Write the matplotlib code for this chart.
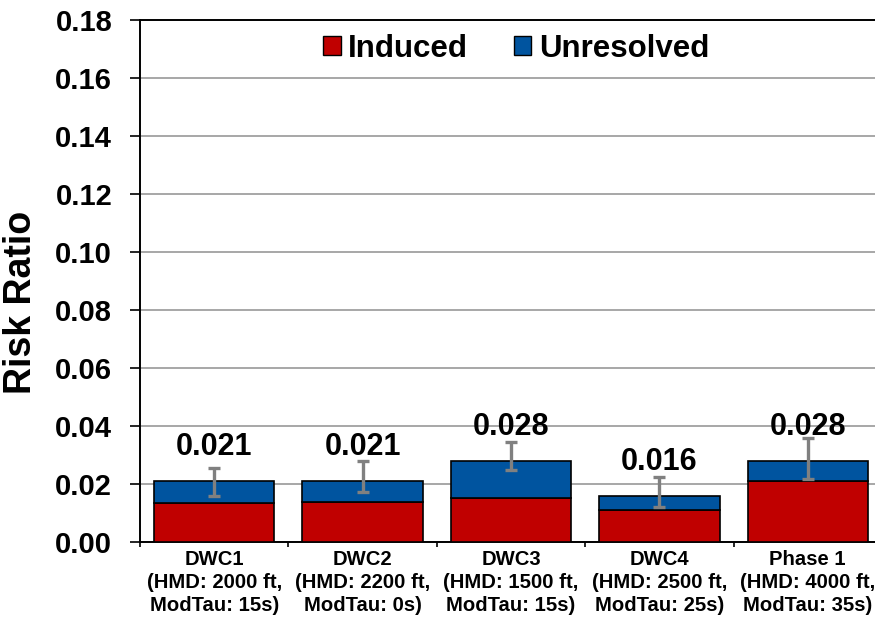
import numpy as np
import matplotlib
matplotlib.use("Agg")
import matplotlib.pyplot as plt
from matplotlib.patches import Patch

# ── Data ──────────────────────────────────────────────────────────────────────

categories = [
    "DWC1\n(HMD: 2000 ft,\nModTau: 15s)",
    "DWC2\n(HMD: 2200 ft,\nModTau: 0s)",
    "DWC3\n(HMD: 1500 ft,\nModTau: 15s)",
    "DWC4\n(HMD: 2500 ft,\nModTau: 25s)",
    "Phase 1\n(HMD: 4000 ft,\nModTau: 35s)",
]
induced = [0.0135, 0.0139, 0.0153, 0.0109, 0.0210]
unresolved = [0.0076, 0.0072, 0.0127, 0.0051, 0.0068]
err_low = [0.0160, 0.0172, 0.0248, 0.0122, 0.0216]
err_high = [0.0256, 0.0278, 0.0344, 0.0225, 0.0358]
yticks = [0.00, 0.02, 0.04, 0.06, 0.08, 0.10, 0.12, 0.14, 0.16, 0.18]

# ── Style ─────────────────────────────────────────────────────────────────────

RED = "#C00000"
BLUE = "#00549F"
GREY = "#808080"
FONT = "Liberation Sans"

plt.rcParams["font.family"] = [FONT, "DejaVu Sans"]
plt.rcParams["font.weight"] = "bold"


def main():
    fig = plt.figure(figsize=(8.75, 6.17), dpi=100)
    ax = fig.add_axes([140 / 875, 1 - 542 / 617, 742 / 875, 522 / 617])

    x = np.arange(len(categories))
    induced_arr = np.array(induced)
    total = induced_arr + np.array(unresolved)

    ax.bar(x, induced_arr, width=0.81, color=RED, edgecolor="black", linewidth=1.2, zorder=3)
    ax.bar(x, unresolved, width=0.81, bottom=induced_arr, color=BLUE,
           edgecolor="black", linewidth=1.2, zorder=3)

    yerr = [total - np.array(err_low), np.array(err_high) - total]
    ax.errorbar(x, total, yerr=yerr, fmt="none", ecolor=GREY, elinewidth=2.4,
                capsize=4.5, capthick=2.4, zorder=4)

    for xi, t in zip(x, total):
        ax.annotate(f"{t:.3f}", (xi, t), xytext=(0, 18.7), textcoords="offset points",
                    ha="center", va="baseline", fontsize=22, fontweight="bold", zorder=5)

    ax.set_xlim(-0.5, len(categories) - 0.5)
    ax.set_ylim(0, 0.18)
    ax.set_yticks(yticks)
    ax.set_yticklabels([f"{v:.2f}" for v in yticks], fontsize=21, fontweight="bold")
    ax.tick_params(axis="y", direction="out", length=7, width=1.2, pad=13)

    # boundary ticks as major, labels on minor ticks at the bar centers
    ax.set_xticks(np.arange(-0.5, len(categories), 1.0))
    ax.set_xticklabels([])
    ax.tick_params(axis="x", which="major", direction="out", length=3.6, width=1.2)
    ax.set_xticks(x, minor=True)
    ax.set_xticklabels(categories, minor=True, fontsize=14.6, fontweight="bold", linespacing=1.25)
    ax.tick_params(axis="x", which="minor", length=0, pad=6)

    ax.yaxis.grid(True, color="#A0A0A0", linewidth=1.3, zorder=0)
    ax.set_axisbelow(True)
    for side in ["left", "bottom", "top"]:
        ax.spines[side].set_linewidth(1.4)
    ax.spines["right"].set_visible(False)

    ax.set_ylabel("Risk Ratio", fontsize=27, fontweight="bold", va="center")
    ax.yaxis.set_label_coords((21 - 140) / 742, (542 - 302) / 522)

    handles = [Patch(facecolor=RED, edgecolor="black", linewidth=1.0),
               Patch(facecolor=BLUE, edgecolor="black", linewidth=1.0)]
    ax.legend(handles, ["Induced", "Unresolved"], loc="upper center",
              bbox_to_anchor=(0.507, 1.01), ncol=2, frameon=False,
              prop={"family": FONT, "weight": "bold", "size": 22.5},
              handlelength=0.55, handleheight=0.55, handletextpad=0.25,
              columnspacing=1.45, borderaxespad=0.2)

    fig.savefig("out.png", dpi=100)


if __name__ == "__main__":
    main()
